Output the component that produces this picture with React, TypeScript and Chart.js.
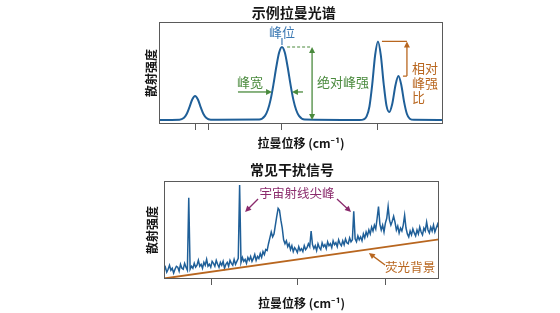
import { useEffect, useRef } from "react";
import { Chart, registerables } from "chart.js";

Chart.register(...registerables);

const FONT = '"Noto Sans CJK SC", "Noto Sans", sans-serif';
const LINE_BLUE = "#1f5f98";
const TEXT_BLUE = "#3b78b2";
const GREEN = "#4a8a3d";
const ORANGE = "#b8661f";
const PURPLE = "#8a2a6c";
const FRAME = "#5a5a5a";

// 示例拉曼光谱 (upper panel)
const specShift = [
  0, 7.2, 8.7, 9.7, 10.7, 11.7, 12.7, 13.7, 14.7, 15.7, 16.7, 18.2,
  35.3, 37.3, 38.3, 39.3, 40.3, 41.3, 42.3, 43.3, 44.3, 45.3, 46.3, 47.3, 48.3, 49.3, 51.3,
  70.6, 72.1, 73.1, 74.1, 75.1, 76.1, 77.1, 78.1, 79.1, 80.1, 81.1, 82.1, 83.3, 84.3, 85.3,
  86.3, 87.3, 88.3, 89.8, 100,
];
const specIntensity = [
  0.04, 0.042, 0.058, 0.095, 0.163, 0.24, 0.275, 0.24, 0.163, 0.095, 0.058, 0.042,
  0.044, 0.08, 0.137, 0.239, 0.388, 0.559, 0.7, 0.755, 0.7, 0.559, 0.388, 0.239, 0.137, 0.08, 0.044,
  0.04, 0.046, 0.074, 0.172, 0.393, 0.674, 0.81, 0.675, 0.397, 0.18, 0.118, 0.193, 0.385, 0.47, 0.385,
  0.217, 0.098, 0.052, 0.041, 0.04,
];
const specTicks = [12.7, 17.6, 43.3, 77.1];

// 常见干扰信号 (lower panel)
const noisyShift = [
  0, 0.5, 1, 1.5, 2, 2.5, 3, 3.5, 4, 4.5, 5, 5.5, 6, 6.5, 7, 7.5, 8, 8.5, 9, 9.5,
  10, 10.5, 11, 11.5, 12, 12.5, 13, 13.5, 14, 14.5, 15, 15.5, 16, 16.5, 17, 17.5, 18, 18.5, 19, 19.5,
  20, 20.5, 21, 21.5, 22, 22.5, 23, 23.5, 24, 24.5, 25, 25.5, 26, 26.5, 27, 27.5, 28, 28.5, 29, 29.5,
  30, 30.5, 31, 31.5, 32, 32.5, 33, 33.5, 34, 34.5, 35, 35.5, 36, 36.5, 37, 37.5, 38, 38.5, 39, 39.5,
  40, 40.5, 41, 41.5, 42, 42.5, 43, 43.5, 44, 44.5, 45, 45.5, 46, 46.5, 47, 47.5, 48, 48.5, 49, 49.5,
  50, 50.5, 51, 51.5, 52, 52.5, 53, 53.5, 54, 54.5, 55, 55.5, 56, 56.5, 57, 57.5, 58, 58.5, 59, 59.5,
  60, 60.5, 61, 61.5, 62, 62.5, 63, 63.5, 64, 64.5, 65, 65.5, 66, 66.5, 67, 67.5, 68, 68.5, 69, 69.5,
  70, 70.5, 71, 71.5, 72, 72.5, 73, 73.5, 74, 74.5, 75, 75.5, 76, 76.5, 77, 77.5, 78, 78.5, 79, 79.5,
  80, 80.5, 81, 81.5, 82, 82.5, 83, 83.5, 84, 84.5, 85, 85.5, 86, 86.5, 87, 87.5, 88, 88.5, 89, 89.5,
  90, 90.5, 91, 91.5, 92, 92.5, 93, 93.5, 94, 94.5, 95, 95.5, 96, 96.5, 97, 97.5, 98, 98.5, 99, 99.5,
  100,
];
const noisyIntensity = [
  0.09, 0.12, 0.07, 0.1, 0.14, 0.09, 0.11, 0.06, 0.1, 0.13, 0.12, 0.08, 0.15, 0.11, 0.1, 0.16, 0.12, 0.09, 0.83, 0.1,
  0.13, 0.11, 0.16, 0.12, 0.14, 0.19, 0.13, 0.15, 0.11, 0.17, 0.14, 0.2, 0.13, 0.15, 0.12, 0.18, 0.16, 0.13, 0.19, 0.15,
  0.12, 0.17, 0.14, 0.18, 0.11, 0.15, 0.17, 0.13, 0.19, 0.16, 0.14, 0.2, 0.15, 0.18, 0.21, 0.96, 0.17, 0.22, 0.18, 0.2,
  0.16, 0.22, 0.19, 0.23, 0.18, 0.21, 0.25, 0.19, 0.23, 0.21, 0.26, 0.22, 0.28, 0.25, 0.3, 0.29, 0.36, 0.42, 0.48, 0.43,
  0.46, 0.55, 0.64, 0.72, 0.7, 0.6, 0.52, 0.4, 0.36, 0.39, 0.33, 0.36, 0.3, 0.34, 0.28, 0.32, 0.3, 0.27, 0.33, 0.29,
  0.31, 0.28, 0.34, 0.3, 0.32, 0.36, 0.33, 0.49, 0.35, 0.31, 0.34, 0.29, 0.36, 0.32, 0.3, 0.37, 0.33, 0.35, 0.31, 0.38,
  0.34, 0.36, 0.32, 0.39, 0.35, 0.37, 0.33, 0.4, 0.36, 0.34, 0.39, 0.35, 0.41, 0.37, 0.36, 0.42, 0.38, 0.4, 0.69, 0.41,
  0.38, 0.44, 0.4, 0.43, 0.39, 0.46, 0.42, 0.48, 0.44, 0.5, 0.46, 0.53, 0.49, 0.55, 0.51, 0.62, 0.74, 0.56, 0.5, 0.55,
  0.48, 0.57, 0.62, 0.74, 0.6, 0.55, 0.59, 0.64, 0.58, 0.5, 0.54, 0.47, 0.52, 0.49, 0.55, 0.65, 0.52, 0.46, 0.43, 0.49,
  0.45, 0.51, 0.47, 0.44, 0.5, 0.46, 0.53, 0.48, 0.45, 0.52, 0.49, 0.58, 0.5, 0.47, 0.53, 0.49, 0.55, 0.48, 0.52, 0.56,
  0.51,
];
const fluoShift = [0, 100];
const fluoIntensity = [0.005, 0.405];
const noisyTicks = [17.1, 48.7, 80.7];

const toPoints = (xs: number[], ys: number[]) => xs.map((x, i) => ({ x, y: ys[i] }));

function arrowHead(ctx: CanvasRenderingContext2D, x: number, y: number, angle: number, len: number, half: number) {
  ctx.save();
  ctx.translate(x, y);
  ctx.rotate(angle);
  ctx.beginPath();
  ctx.moveTo(0, 0);
  ctx.lineTo(-len, -half);
  ctx.lineTo(-len, half);
  ctx.closePath();
  ctx.fill();
  ctx.restore();
}

function arrow(ctx: CanvasRenderingContext2D, x1: number, y1: number, x2: number, y2: number, color: string, width: number, len = 6, half = 3, both = false) {
  ctx.save();
  ctx.strokeStyle = color;
  ctx.fillStyle = color;
  ctx.lineWidth = width;
  const a = Math.atan2(y2 - y1, x2 - x1);
  ctx.beginPath();
  ctx.moveTo(x1 + (both ? Math.cos(a) * len * 0.8 : 0), y1 + (both ? Math.sin(a) * len * 0.8 : 0));
  ctx.lineTo(x2 - Math.cos(a) * len * 0.8, y2 - Math.sin(a) * len * 0.8);
  ctx.stroke();
  arrowHead(ctx, x2, y2, a, len, half);
  if (both) arrowHead(ctx, x1, y1, a + Math.PI, len, half);
  ctx.restore();
}

function text(ctx: CanvasRenderingContext2D, s: string, x: number, y: number, color: string, size: number, align: CanvasTextAlign = "center") {
  ctx.save();
  ctx.fillStyle = color;
  ctx.font = `${size}px ${FONT}`;
  ctx.textAlign = align;
  ctx.textBaseline = "middle";
  ctx.fillText(s, x, y);
  ctx.restore();
}

const framePlugin = {
  id: "frame",
  afterDraw(chart: any) {
    const { ctx, chartArea: a } = chart;
    ctx.save();
    ctx.strokeStyle = FRAME;
    ctx.lineWidth = 1;
    ctx.strokeRect(Math.round(a.left) + 0.5, Math.round(a.top) + 0.5, Math.round(a.right - a.left) - 1, Math.round(a.bottom - a.top) - 1);
    ctx.restore();
  },
};

const spectrumNotes = {
  id: "spectrumNotes",
  afterDatasetsDraw(chart: any) {
    const { ctx } = chart;
    const X = (v: number) => chart.scales.x.getPixelForValue(v);
    const Y = (v: number) => chart.scales.y.getPixelForValue(v);
    // peak position
    text(ctx, "峰位", X(43.3), Y(0.9), TEXT_BLUE, 13);
    ctx.save();
    ctx.strokeStyle = TEXT_BLUE;
    ctx.lineWidth = 1.2;
    ctx.beginPath();
    ctx.moveTo(X(43.3), Y(0.843));
    ctx.lineTo(X(43.3), Y(0.775));
    ctx.stroke();
    // absolute intensity
    ctx.strokeStyle = GREEN;
    ctx.setLineDash([3, 2]);
    ctx.beginPath();
    ctx.moveTo(X(45.1), Y(0.755));
    ctx.lineTo(X(53.9), Y(0.755));
    ctx.stroke();
    ctx.restore();
    arrow(ctx, X(53.9), Y(0.755), X(53.9), Y(0.04), GREEN, 1.3, 6, 3, true);
    text(ctx, "绝对峰强", X(55.6), Y(0.41), GREEN, 13, "left");
    // peak width
    text(ctx, "峰宽", X(32.0), Y(0.41), GREEN, 13);
    arrow(ctx, X(27.8), Y(0.314), X(39.8), Y(0.314), GREEN, 1.3, 6, 3);
    arrow(ctx, X(50.7), Y(0.314), X(46.8), Y(0.314), GREEN, 1.3, 6, 3);
    // relative intensity ratio
    ctx.save();
    ctx.strokeStyle = ORANGE;
    ctx.lineWidth = 1.3;
    ctx.beginPath();
    ctx.moveTo(X(78.5), Y(0.81));
    ctx.lineTo(X(87.3), Y(0.81));
    ctx.moveTo(X(85.9), Y(0.47));
    ctx.lineTo(X(87.3), Y(0.47));
    ctx.stroke();
    ctx.restore();
    arrow(ctx, X(87.3), Y(0.47), X(87.3), Y(0.81), ORANGE, 1.3, 6, 3);
    text(ctx, "相对", X(89.1), Y(0.55), ORANGE, 13, "left");
    text(ctx, "峰强", X(89.1), Y(0.4), ORANGE, 13, "left");
    text(ctx, "比", X(89.1), Y(0.26), ORANGE, 13, "left");
  },
};

const interferenceNotes = {
  id: "interferenceNotes",
  afterDatasetsDraw(chart: any) {
    const { ctx } = chart;
    const X = (v: number) => chart.scales.x.getPixelForValue(v);
    const Y = (v: number) => chart.scales.y.getPixelForValue(v);
    text(ctx, "宇宙射线尖峰", X(48.4), Y(0.878), PURPLE, 12.5);
    arrow(ctx, X(34.2), Y(0.816), X(29.5), Y(0.684), PURPLE, 1.3, 6, 3);
    arrow(ctx, X(62.9), Y(0.816), X(68.0), Y(0.684), PURPLE, 1.3, 6, 3);
    text(ctx, "荧光背景", X(89.5), Y(0.122), ORANGE, 12.5);
    arrow(ctx, X(80.4), Y(0.143), X(74.5), Y(0.265), ORANGE, 1.3, 6, 3);
  },
};

function baseOptions(opts: {
  title: string;
  titlePad: { top: number; bottom: number };
  layoutPad: { left: number; right: number; top: number; bottom: number };
  xTitlePad: { top: number; bottom: number };
  yTitlePad: { top: number; bottom: number };
  ticks: number[];
}): any {
  return {
    responsive: false,
    animation: false,
    devicePixelRatio: 1,
    events: [],
    layout: { padding: opts.layoutPad },
    plugins: {
      legend: { display: false },
      tooltip: { enabled: false },
      title: {
        display: true,
        text: opts.title,
        color: "#161616",
        font: { family: FONT, size: 14, weight: "bold" },
        padding: opts.titlePad,
      },
    },
    scales: {
      x: {
        type: "linear",
        min: 0,
        max: 100,
        afterBuildTicks: (axis: any) => {
          axis.ticks = opts.ticks.map((value) => ({ value }));
        },
        ticks: { display: false },
        grid: { drawOnChartArea: false, drawTicks: true, tickLength: 6, color: FRAME, tickWidth: 1 },
        border: { display: false },
        title: {
          display: true,
          text: "拉曼位移 (cm⁻¹)",
          color: "#161616",
          font: { family: FONT, size: 12, weight: "bold" },
          padding: opts.xTitlePad,
        },
      },
      y: {
        type: "linear",
        min: 0,
        max: 1,
        ticks: { display: false },
        grid: { display: false, drawTicks: false },
        border: { display: false },
        title: {
          display: true,
          text: "散射强度",
          color: "#161616",
          font: { family: FONT, size: 12, weight: "bold" },
          padding: opts.yTitlePad,
        },
      },
    },
  };
}

export default function App() {
  const topRef = useRef<HTMLCanvasElement>(null);
  const bottomRef = useRef<HTMLCanvasElement>(null);

  useEffect(() => {
    const top = new Chart(topRef.current!, {
      type: "line",
      data: {
        datasets: [
          {
            data: toPoints(specShift, specIntensity),
            borderColor: LINE_BLUE,
            borderWidth: 2,
            pointRadius: 0,
            cubicInterpolationMode: "monotone",
            fill: false,
          },
        ],
      },
      options: baseOptions({
        title: "示例拉曼光谱",
        titlePad: { top: 4, bottom: 1.2 },
        layoutPad: { left: 144.6, right: 117, top: 0, bottom: 5.3 },
        xTitlePad: { top: 6.3, bottom: 0 },
        yTitlePad: { top: 0, bottom: 0 },
        ticks: specTicks,
      }),
      plugins: [framePlugin, spectrumNotes],
    } as any);

    const bottom = new Chart(bottomRef.current!, {
      type: "line",
      data: {
        datasets: [
          {
            data: toPoints(fluoShift, fluoIntensity),
            borderColor: ORANGE,
            borderWidth: 1.8,
            pointRadius: 0,
            tension: 0,
            fill: false,
          },
          {
            data: toPoints(noisyShift, noisyIntensity),
            borderColor: LINE_BLUE,
            borderWidth: 1.5,
            pointRadius: 0,
            tension: 0,
            fill: false,
          },
        ],
      },
      options: baseOptions({
        title: "常见干扰信号",
        titlePad: { top: 5.6, bottom: 2.6 },
        layoutPad: { left: 145.2, right: 121, top: 0, bottom: 2.8 },
        xTitlePad: { top: 10.8, bottom: 0 },
        yTitlePad: { top: 0, bottom: 4.4 },
        ticks: noisyTicks,
      }),
      plugins: [framePlugin, interferenceNotes],
    } as any);

    return () => {
      top.destroy();
      bottom.destroy();
    };
  }, []);

  return (
    <div style={{ position: "fixed", left: 0, top: 0, width: 560, height: 313, background: "#fff" }}>
      <canvas
        ref={topRef}
        width={560}
        height={156}
        style={{ position: "absolute", left: 0, top: 0, width: 560, height: 156 }}
      />
      <canvas
        ref={bottomRef}
        width={560}
        height={157}
        style={{ position: "absolute", left: 0, top: 156, width: 560, height: 157 }}
      />
    </div>
  );
}
